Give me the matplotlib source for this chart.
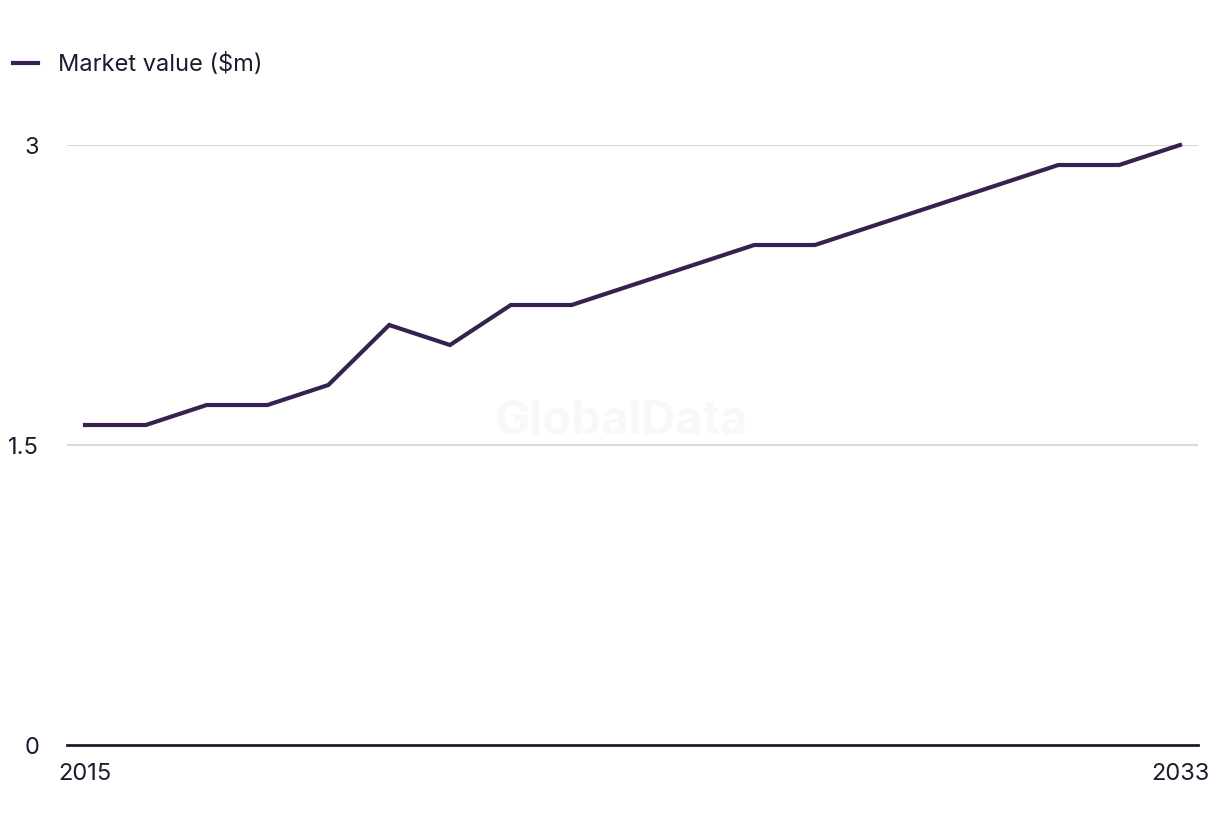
import matplotlib as mpl
import matplotlib.pyplot as plt
import numpy as np

mpl.rcParams['font.family'] = ['Inter', 'DejaVu Sans']

years = list(range(2015, 2034))
market_value = [1.6, 1.6, 1.7, 1.7, 1.8, 2.1, 2.0, 2.2, 2.2, 2.3,
                2.4, 2.5, 2.5, 2.6, 2.7, 2.8, 2.9, 2.9, 3.0]
y_ticks = [0, 1.5, 3]
y_labels = ['0', '1.5', '3']
x_ticks = [2015, 2033]

line_col = '#35224f'
text_col = '#1c1c2e'

fig = plt.figure(figsize=(12.2, 8.36), dpi=100)
ax = fig.add_axes([67/1220, 1 - 745/836, (1198 - 67)/1220, 600/836])

ax.plot(years, market_value, color=line_col, lw=3, clip_on=False,
        solid_joinstyle='miter', label='Market value ($m)', zorder=3)

ax.set_xlim(2015 - 18/1095*18, 2033 + 18/1095*18)
ax.set_ylim(0, 3)
ax.set_yticks(y_ticks)
ax.set_yticklabels(y_labels)
ax.set_xticks(x_ticks)
ax.set_xticklabels([str(x) for x in x_ticks])

for s in ['top', 'right', 'left']:
    ax.spines[s].set_visible(False)
ax.spines['bottom'].set_color(text_col)
ax.spines['bottom'].set_linewidth(2)
ax.tick_params(axis='both', length=0, labelsize=17, colors=text_col)
ax.tick_params(axis='y', pad=20)
ax.tick_params(axis='x', pad=13)
for lab in ax.get_yticklabels():
    lab.set_horizontalalignment('right')

for v in y_ticks[1:]:
    ax.axhline(v, color='#d9d9d9', lw=1.5, zorder=1)

ax.text(0.49, 0.54, 'GlobalData', transform=ax.transAxes, fontsize=34,
        fontweight='bold', color='#f8f8f8', ha='center', va='center', zorder=0)

leg = fig.legend(loc='upper left', bbox_to_anchor=(-0.007, 1 - 32/836), frameon=False,
                 fontsize=17, handlelength=1.05, handletextpad=0.85, labelcolor=text_col)

fig.savefig('out.png', dpi=100)
